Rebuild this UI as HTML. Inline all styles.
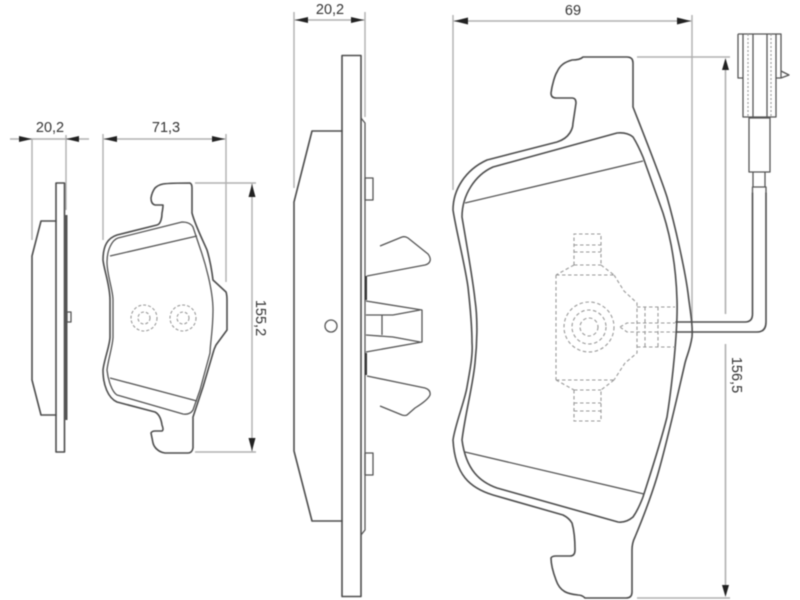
<!DOCTYPE html>
<html><head><meta charset="utf-8"><style>
html,body{margin:0;padding:0;background:#fff}
svg{display:block;filter:blur(.4px)}
.p{fill:none;stroke:#4d4d4d;stroke-width:1.6;stroke-linejoin:round;stroke-linecap:round}
.t{fill:none;stroke:#555;stroke-width:1.3;stroke-linejoin:round}
.d{fill:none;stroke:#b0b0b0;stroke-width:1.4}
.h{fill:none;stroke:#999;stroke-width:1.1;stroke-dasharray:3.5 2.500}
.a{fill:#222}
text{font-family:"Liberation Sans",sans-serif;font-size:14.500px;fill:#333}
</style></head><body>
<svg width="800" height="600" viewBox="0 0 800 600" xmlns="http://www.w3.org/2000/svg">
<!-- left dims -->
<path class="d" d="M10 139H89M32 139V240M66 135V210M103 134V240M226 134V282M103 139H226M195 183H256M195 452H256M252 183V452"/>
<path class="a" d="M32 139l-13-3v6zM66 139l13-3v6zM104 139l13-3v6zM225 139l-13-3v6zM252 184l-3.500 13h7zM252 451l-3.500-13h7z"/>
<text x="50" y="132" text-anchor="middle">20,2</text>
<text x="166" y="132" text-anchor="middle">71,3</text>
<text transform="translate(256,318) rotate(90)" text-anchor="middle">155,2</text>
<!-- left side view -->
<rect class="p" x="56" y="183" width="8.500" height="269"/>
<path class="p" d="M56 221H41L32 256V380L41 415H56"/>
<path d="M66 215V420" fill="none" stroke="#555" stroke-width="3"/>
<rect class="t" x="67" y="312" width="4" height="10"/>
<!-- small pad -->
<path class="p" d="M163 184Q170 183 190 183Q192 184 192 188V213C195 225 205 245 207 250C210 260 212 272 213 280L226 292Q227 295 227 300V330L216 345Q214 349 213 353L203 387 193 417V448Q192 453 188 453H165C158 452 154 447 153 443L151 433Q152 431 155 431H162Q164 430 162 425C161 418 159 414 155 412L117 402C108 398 103 385 103 370C104 360 110 345 110 337V300C110 285 104 270 103 260C103 245 108 238 117 235L157 225C161 224 162 217 162 213Q163 208 163 205H155Q151 204 151 198Q152 192 155 188Q158 185 163 184Z"/>
<path class="t" d="M182 222Q190 222 193 227L200 248C205 262 213 290 213 310C213 330 210 345 210 353L200 390 193 410Q190 415 183 414L117 395C112 392 108 380 107 370C108 360 113 345 113 337V300C113 290 107 275 107 262C107 250 112 240 118 238Z"/>
<path class="t" d="M110 256 197 236M110 378 197 401"/>
<g class="h" style="stroke-dasharray:3 2">
<circle cx="144" cy="318" r="13"/><circle cx="144" cy="318" r="6"/>
<circle cx="183" cy="318" r="13"/><circle cx="183" cy="318" r="6"/>
</g>
<!-- middle dims -->
<path class="d" d="M294 12V188M365 12V117M294 20H365"/>
<path class="a" d="M295 20l13-3v6zM364 20l-13-3v6z"/>
<text x="330" y="14" text-anchor="middle">20,2</text>
<!-- middle side view -->
<rect class="p" x="342" y="55.500" width="19" height="541"/>
<path class="p" d="M342 131H312L294 202V451L312 521H342"/>
<path class="t" d="M361 118 365 123V530L361 535"/>
<rect class="t" x="365" y="178" width="8" height="22"/>
<rect class="t" x="365" y="453" width="8" height="22"/>
<circle class="t" cx="331" cy="326" r="6"/>
<path class="t" d="M380 246 402 237Q405 236 408 238L428 254Q431 258 430 261Q429 264 425 265L367 276"/>
<path d="M366 276V300M366 353V375" fill="none" stroke="#333" stroke-width="2"/>
<path class="t" d="M366 301 422 310V342L366 352M366 315H393L420 310M366 335 393 337 420 342M382 315V335"/>
<path class="t" d="M367 376 425 388Q431 390 430 395Q428 400 415 408L407 415Q405 416 402 415L380 406"/>
<!-- right dims -->
<path class="d" d="M453 15V190M692 15V322M453 21H692M637 57H730M637 598H730"/>
<path d="M725.500 70V314M725.500 344V586" fill="none" stroke="#b0b0b0" stroke-width="1.600"/>
<path class="a" d="M454 21l14-3.500v7zM691 21l-14-3.500v7zM725.500 58l-3.500 12h7zM725.500 597l-3.500-12h7z"/>
<text x="573" y="15" text-anchor="middle">69</text>
<text transform="translate(732,375) rotate(90)" text-anchor="middle">156,5</text>
<!-- large pad -->
<path class="p" d="M583 57H627Q633 57 633 63V107C640 125 660 175 667 197C675 225 685 270 688 293C690 310 693 325 692 337C690 350 687 355 685 363C680 385 665 450 657 477C650 500 640 525 635 537Q632 543 632 550V592Q632 598 626 598H585Q582 595 578 595C568 594 560 592 556 580C553 572 551 565 551 558Q552 556 556 556H570Q575 556 575 550C575 540 574 530 572 523Q569 518 563 515L493 495C470 488 455 475 453 440C455 425 465 400 467 387C470 370 473 355 472 343C472 325 470 305 468 287C465 265 456 230 453 210C453 190 465 170 487 160L557 142C570 138 573 128 573 123Q575 110 576 103Q576 98 572 98H556Q551 98 551 93C552 85 555 75 557 72C560 65 565 62 572 60Q580 60 583 57Z"/>
<path class="p" d="M617 133Q627 132 633 137Q638 145 643 157L663 213C670 235 676 265 677 300C678 330 672 385 667 417C660 445 650 475 643 497Q638 510 633 517Q626 523 618 522L497 488C480 482 466 470 462 440C465 415 473 385 475 363C477 345 478 320 475 300C473 280 465 235 462 217C462 195 475 175 493 167Z"/>
<path class="t" d="M465 203 643 161M465 452 644 494"/>
<!-- dashed brake detail -->
<g class="h">
<path d="M574 265V234H601V265M574 245H601M574 252H601M574 265H601M574 265 556 275M601 265 614 275M556 275H614M556 275V380M614 275 624 291 637 303V353L625 363 614 380M556 380H614M556 380 574 390M614 380 601 390M574 390H601M574 390V421H601V390M574 403H601M574 411H601"/>
<circle cx="589" cy="327" r="25"/><circle cx="589" cy="327" r="17"/><circle cx="589" cy="327" r="9"/>
<path d="M637 307H675M637 347H675M620 327 627 323H675M620 327 627 332H675M645 307V347M658 307V347"/>
</g>
<!-- cable and connector -->
<path class="p" d="M676 322H745Q752.500 322 752.500 314V193M676 332H757Q766 332 766 322V193"/>
<path class="t" d="M752.500 193V187H766V193M752.500 187H766M753 187V172M765 187V172"/>
<rect class="t" x="749" y="118" width="21" height="54"/>
<path class="t" d="M743 34V117H776V34M738 34H781V78H776M738 34V78H743M753 34V117M767 34V117M781 71 789 75 781 78"/>
<path class="h" d="M748 34V117M771 34V117" style="stroke-dasharray:2 2"/>
</svg>
</body></html>
